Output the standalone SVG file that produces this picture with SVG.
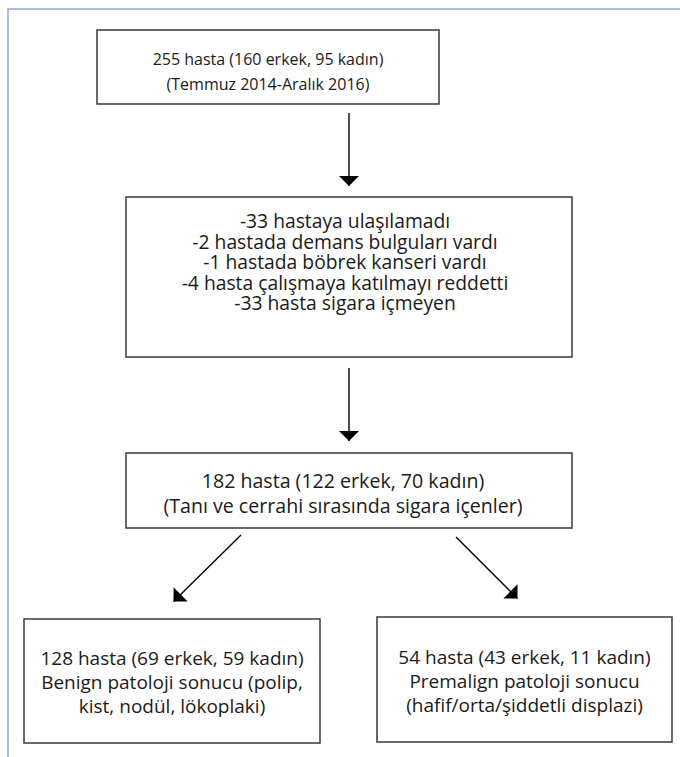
<svg xmlns="http://www.w3.org/2000/svg" width="680" height="757" viewBox="0 0 680 757">
<style>
.box{fill:#fff;stroke:#3a3a3a;stroke-width:1.5}
.t{font-family:"Open Sans","Noto Sans","Liberation Sans",sans-serif;font-size:19px;fill:#1a1a1a;text-anchor:middle}
.s1{font-size:16px}
.s2{font-size:19.3px}
.s3{font-size:19.6px}
.c{stroke:#000;stroke-width:1.4;fill:none}
.frame{fill:none;stroke:#8ea6d8;stroke-width:1.5}
</style>
<defs>
<marker id="ah" viewBox="0 0 10 20" refX="10" refY="10" markerWidth="10" markerHeight="20" markerUnits="userSpaceOnUse" orient="auto">
<path d="M0,0 L10,10 L0,20 Z" fill="#000"/>
</marker>
</defs>
<rect width="680" height="757" fill="#fff"/>
<path class="frame" d="M8,757 V9 H680"/>
<g id="n1">
<rect class="box" x="97" y="30" width="342" height="74"/>
<text class="t s1" x="268" y="65">255 hasta (160 erkek, 95 kadın)</text>
<text class="t s1" x="268" y="90">(Temmuz 2014-Aralık 2016)</text>
</g>
<g id="n2">
<rect class="box" x="126" y="197" width="446" height="160"/>
<text class="t s2" x="345" y="228">-33 hastaya ulaşılamadı</text>
<text class="t s2" x="345" y="248.5">-2 hastada demans bulguları vardı</text>
<text class="t s2" x="345" y="269">-1 hastada böbrek kanseri vardı</text>
<text class="t s2" x="345" y="289.5">-4 hasta çalışmaya katılmayı reddetti</text>
<text class="t s2" x="345" y="310">-33 hasta sigara içmeyen</text>
</g>
<g id="n3">
<rect class="box" x="126" y="453" width="446" height="75"/>
<text class="t s3" x="343" y="488">182 hasta (122 erkek, 70 kadın)</text>
<text class="t s3" x="343" y="513">(Tanı ve cerrahi sırasında sigara içenler)</text>
</g>
<g id="n4">
<rect class="box" x="24" y="619" width="296" height="124"/>
<text class="t" x="172" y="665">128 hasta (69 erkek, 59 kadın)</text>
<text class="t" x="172" y="689">Benign patoloji sonucu (polip,</text>
<text class="t" x="172" y="713">kist, nodül, lökoplaki)</text>
</g>
<g id="n5">
<rect class="box" x="377" y="617" width="295" height="125"/>
<text class="t" x="524.5" y="664">54 hasta (43 erkek, 11 kadın)</text>
<text class="t" x="524.5" y="688">Premalign patoloji sonucu</text>
<text class="t" x="524.5" y="712">(hafif/orta/şiddetli displazi)</text>
</g>
<g id="connectors">
<line class="c" x1="349" y1="113" x2="349" y2="186" marker-end="url(#ah)"/>
<line class="c" x1="349" y1="368" x2="349" y2="441" marker-end="url(#ah)"/>
<line class="c" x1="241" y1="535" x2="173.5" y2="601.5" marker-end="url(#ah)"/>
<line class="c" x1="456" y1="537" x2="517.5" y2="598.5" marker-end="url(#ah)"/>
</g>
</svg>
